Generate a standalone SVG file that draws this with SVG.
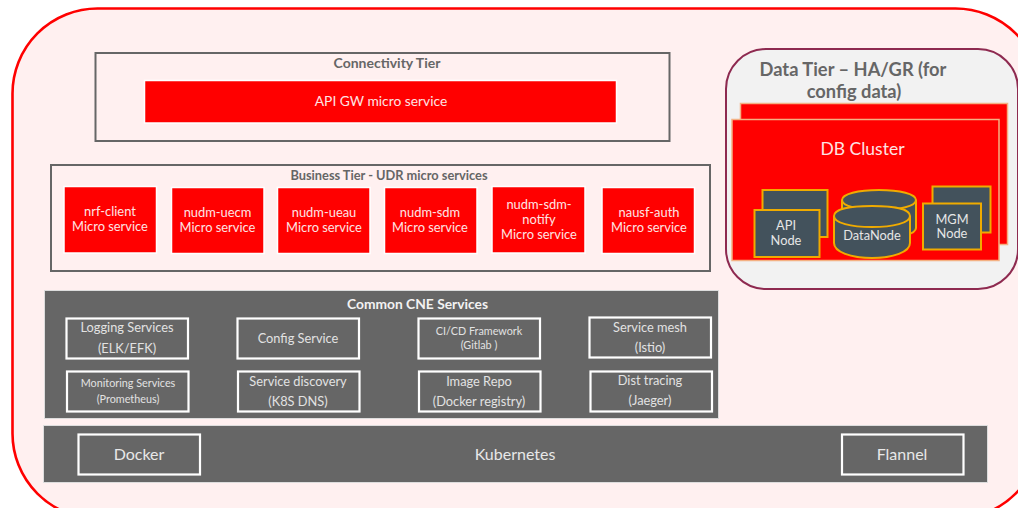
<svg xmlns="http://www.w3.org/2000/svg" width="1018" height="508" viewBox="0 0 1018 508">
<style>
text{font-family:Lato,"Open Sans","Liberation Sans",sans-serif;text-anchor:middle}
.tier{fill:none;stroke:#666;stroke-width:2}
.ms{fill:#f00;stroke:#fff;stroke-width:1.5}
.w{fill:#fde4e4;font-size:12.9px}
.h{fill:#666;font-weight:700;font-size:12.800px}
.band{fill:#666;stroke:#ddd;stroke-width:1}
.box{fill:#666;stroke:#fff;stroke-width:2.2}
.l{fill:#e2e2e2;font-size:12.8px}
.s{font-size:10.8px}
.n{fill:#43525c;stroke:#f0ab00;stroke-width:2}
.nt{fill:#e6e6e6;font-size:12.8px}
.db{fill:#f00;stroke:#f4b183;stroke-width:1.5}
.big{fill:#e8e8e8;font-size:16px}
.dt{fill:#666;font-weight:700;font-size:18.3px}
</style>
<rect id="background" width="1018" height="508" fill="#fff"/>
<rect id="outer" x="12.500" y="8.500" width="1028" height="510" rx="85" ry="85" fill="#fff0f0" stroke="#f00" stroke-width="2.600"/>
<g id="connectors"></g>
<g id="connectivity-tier">
<rect class="tier" x="95.500" y="53" width="574" height="88"/>
<text class="h" x="387" y="68" style="font-size:14px">Connectivity Tier</text>
<rect class="ms" x="144.500" y="80.500" width="472" height="42.500"/>
<text class="w" x="381" y="106" style="font-size:13.800px">API GW micro service</text>
</g>
<g id="business-tier">
<rect class="tier" x="51" y="165" width="659" height="106"/>
<text class="h" x="389" y="180">Business Tier - UDR micro services</text>
</g>
<g id="nrf-client"><rect class="ms" x="64" y="186.500" width="92.500" height="66.500"/><text class="w" x="110" y="216">nrf-client</text><text class="w" x="110" y="231">Micro service</text></g>
<g id="nudm-uecm"><rect class="ms" x="171.500" y="187.500" width="92.500" height="66"/><text class="w" x="217.500" y="217">nudm-uecm</text><text class="w" x="217.500" y="232">Micro service</text></g>
<g id="nudm-ueau"><rect class="ms" x="277.500" y="187.500" width="92.500" height="66"/><text class="w" x="324" y="217">nudm-ueau</text><text class="w" x="324" y="232">Micro service</text></g>
<g id="nudm-sdm"><rect class="ms" x="384.500" y="187.500" width="92.500" height="66"/><text class="w" x="430" y="217">nudm-sdm</text><text class="w" x="430" y="232">Micro service</text></g>
<g id="nudm-sdm-notify"><rect class="ms" x="492" y="186.500" width="93" height="66.500"/><text class="w" x="539" y="209">nudm-sdm-</text><text class="w" x="539" y="224">notify</text><text class="w" x="539" y="239">Micro service</text></g>
<g id="nausf-auth"><rect class="ms" x="602" y="187.500" width="92.500" height="66"/><text class="w" x="649" y="217">nausf-auth</text><text class="w" x="649" y="232">Micro service</text></g>
<g id="data-tier">
<rect x="726" y="49" width="292" height="240" rx="40" ry="40" fill="#f2f2f2" stroke="#8e2a50" stroke-width="2"/>
<text class="dt" x="853" y="76">Data Tier – HA/GR (for</text>
<text class="dt" x="854" y="98">config data)</text>
</g>
<g id="db-cluster">
<rect class="db" x="740.500" y="103.500" width="267" height="141"/>
<rect class="db" x="732" y="119.500" width="267" height="141"/>
<text x="862.500" y="154.500" fill="#fde4e4" font-size="17.500px">DB Cluster</text>
</g>
<g id="api-node">
<rect class="n" x="762.500" y="190" width="65" height="47"/>
<rect class="n" x="754.500" y="210" width="65" height="47"/>
<text class="nt" x="786" y="230">API</text><text class="nt" x="786" y="245">Node</text>
</g>
<g id="data-node">
<path class="n" d="M842 200v28c0 6 16 10 37 10s37-4 37-10v-28c0-6-16-10-37-10s-37 4-37 10z"/>
<path class="n" d="M842 200c0 6 16 10 37 10s37-4 37-10"/>
<path class="n" d="M834 216v27c0 9 17 15 38 15s38-6 38-15v-27c0-7-17-10-38-10s-38 3-38 10z"/>
<path class="n" d="M834 216c0 7 17 11 38 11s38-4 38-11"/>
<text class="nt" x="872" y="240">DataNode</text>
</g>
<g id="mgm-node">
<rect class="n" x="932.500" y="186.500" width="58" height="46"/>
<rect class="n" x="923" y="203.500" width="58" height="46"/>
<text class="nt" x="952" y="224">MGM</text><text class="nt" x="952" y="238">Node</text>
</g>
<g id="common-cne">
<rect class="band" x="44.500" y="290.500" width="674" height="128"/>
<text x="417.500" y="309" fill="#f2f2f2" font-weight="700" font-size="13.800px">Common CNE Services</text>
</g>
<g id="logging"><rect class="box" x="66.500" y="318.500" width="121.500" height="40"/><text class="l" x="127" y="332">Logging Services</text><text class="l" x="127" y="353">(ELK/EFK)</text></g>
<g id="config"><rect class="box" x="237.500" y="318.500" width="121.500" height="40"/><text class="l" x="298" y="343">Config Service</text></g>
<g id="cicd"><rect class="box" x="418.500" y="318.500" width="121.500" height="40"/><text class="l s" x="479" y="335">CI/CD Framework</text><text class="l s" x="479" y="349">(Gitlab )</text></g>
<g id="service-mesh"><rect class="box" x="589.500" y="317.500" width="121.500" height="40"/><text class="l" x="650" y="332">Service mesh</text><text class="l" x="650" y="352">(Istio)</text></g>
<g id="monitoring"><rect class="box" x="67" y="371.500" width="121.500" height="40"/><text class="l s" x="128" y="387">Monitoring Services</text><text class="l s" x="128" y="403">(Prometheus)</text></g>
<g id="service-discovery"><rect class="box" x="238" y="371.500" width="121.500" height="40"/><text class="l" x="298" y="386">Service discovery</text><text class="l" x="298" y="406">(K8S DNS)</text></g>
<g id="image-repo"><rect class="box" x="419" y="371.500" width="121.500" height="40"/><text class="l" x="479" y="386">Image Repo</text><text class="l" x="479" y="406">(Docker registry)</text></g>
<g id="dist-tracing"><rect class="box" x="590.500" y="371.500" width="121.500" height="40"/><text class="l" x="650" y="385">Dist tracing</text><text class="l" x="650" y="405">(Jaeger)</text></g>
<g id="kubernetes">
<rect class="band" x="43.500" y="425.500" width="944" height="57"/>
<text class="big" x="515" y="459.500">Kubernetes</text>
</g>
<g id="docker"><rect class="box" x="78.500" y="434.500" width="121.500" height="40"/><text class="big" x="139" y="459.500">Docker</text></g>
<g id="flannel"><rect class="box" x="842" y="434.500" width="121.500" height="40"/><text class="big" x="902" y="459.500">Flannel</text></g>
</svg>
